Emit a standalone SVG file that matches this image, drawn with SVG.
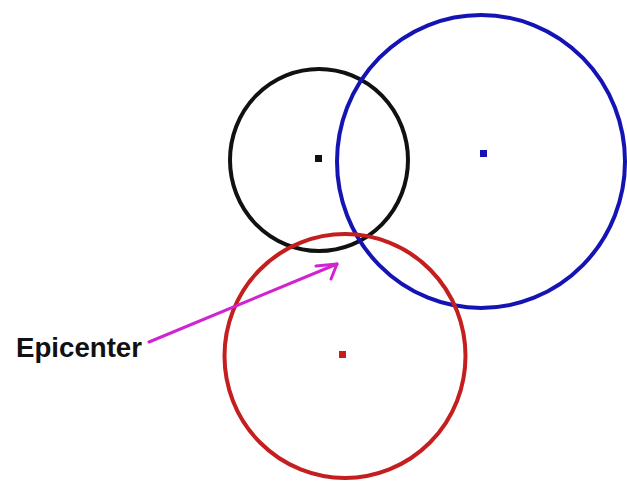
<svg xmlns="http://www.w3.org/2000/svg" width="627" height="481" viewBox="0 0 627 481">
<style>
.c{fill:none;stroke-width:4}
.lbl{font-family:"Liberation Sans",Arial,sans-serif;font-weight:bold;font-size:27.5px;fill:#111}
.arr{fill:none;stroke:#d024d0;stroke-width:3;stroke-linecap:round;stroke-linejoin:round}
</style>
<rect width="627" height="481" fill="#fff"/>
<g id="black-circle">
<ellipse class="c" cx="319" cy="160" rx="89" ry="91" stroke="#111"/>
<rect x="315" y="155" width="7" height="7" fill="#111"/>
</g>
<g id="blue-circle">
<ellipse class="c" cx="481" cy="161.5" rx="144" ry="146.5" stroke="#1414b4"/>
<rect x="480" y="150" width="7" height="7" fill="#1414b4"/>
</g>
<g id="red-circle">
<ellipse class="c" cx="345" cy="356" rx="120.5" ry="122" stroke="#c41e1e"/>
<rect x="339" y="351" width="7" height="7" fill="#c41e1e"/>
</g>
<g id="epicenter-label">
<text class="lbl" x="16" y="357" textLength="126" lengthAdjust="spacingAndGlyphs">Epicenter</text>
</g>
<g id="connectors">
<path class="arr" d="M149,342 L337,264"/>
<path class="arr" d="M316,266 L337,264 L331,279"/>
</g>
</svg>
